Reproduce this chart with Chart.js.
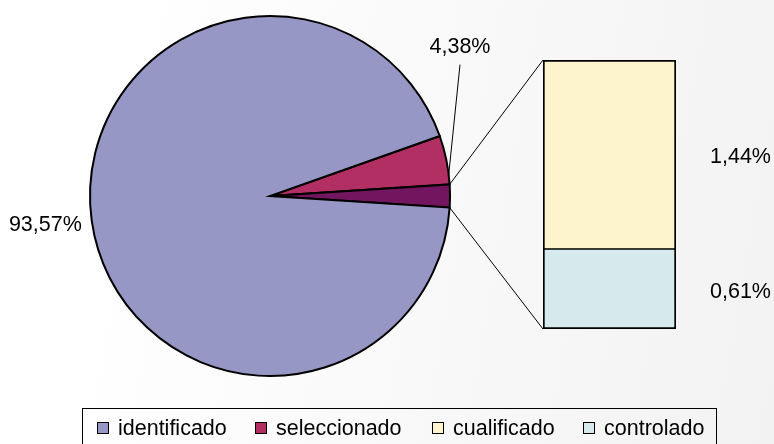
<!DOCTYPE html>
<html><head><meta charset="utf-8">
<script src="https://cdn.jsdelivr.net/npm/chart.js@4.4.0/dist/chart.umd.min.js"></script>
<style>
html,body{margin:0;padding:0;background:#fff;}
#wrap{position:relative;width:774px;height:444px;overflow:hidden;background:linear-gradient(100deg,#ffffff 15%,#f2f2f2 100%);font-family:'Liberation Sans',Arial,sans-serif;color:#000;}
canvas{position:absolute;left:0;top:0;}
#legend{position:absolute;left:82px;top:408px;width:635px;height:60px;border:1px solid #000;box-sizing:border-box;}
.sw{position:absolute;top:13px;width:12px;height:12px;border:1px solid #000;box-sizing:border-box;}
.lt{position:absolute;top:9px;font-size:21.5px;line-height:21.5px;white-space:nowrap;}
</style></head>
<body>
<div id="wrap">
  <canvas id="pie" width="774" height="444"></canvas>
  <canvas id="bar" width="774" height="444"></canvas>
  <div id="legend"></div>
</div>
<script>
// ---- data ----
const categories = ['identificado', 'seleccionado', 'cualificado', 'controlado'];
const values = [93.57, 4.38, 1.44, 0.61];
const valueLabels = ['93,57%', '4,38%', '1,44%', '0,61%'];

// ---- styles ----
const fillColors = ['#9797c6', '#b22f63', '#fdf3cc', '#d6e9ec'];
const otherColor = '#72165f';
const FONT = "21.5px 'Liberation Sans', Arial, sans-serif";

const total = values.reduce((a, b) => a + b, 0);
const otherValue = values[2] + values[3];
// Excel bar-of-pie: "other" slice centred on the horizontal right side
const startDeg = -(values[1] + otherValue / 2) / total * 360;

const pieLabels = {
  id: 'pieLabels',
  afterDatasetsDraw(chart) {
    const arcs = chart.getDatasetMeta(0).data;
    const ctx = chart.ctx;
    ctx.save();
    ctx.font = FONT;
    ctx.fillStyle = '#000';
    // identificado (index 2 in pie order)
    const a = arcs[2];
    const mid = (a.startAngle + a.endAngle) / 2;
    const r = a.outerRadius + 10;
    ctx.textAlign = Math.cos(mid) < 0 ? 'right' : 'left';
    ctx.textBaseline = 'middle';
    ctx.fillText(valueLabels[0], a.x + Math.cos(mid) * r, a.y + Math.sin(mid) * r + 3);
    // seleccionado with leader line
    const s = arcs[0];
    const ang = s.startAngle + 0.8 * (s.endAngle - s.startAngle);
    const px = s.x + Math.cos(ang) * s.outerRadius;
    const py = s.y + Math.sin(ang) * s.outerRadius;
    const lx = s.x + s.outerRadius + 10;
    const ly = s.y - s.outerRadius * 0.83;
    ctx.strokeStyle = '#000';
    ctx.lineWidth = 1;
    ctx.beginPath();
    ctx.moveTo(px, py);
    ctx.lineTo(lx, ly + 18);
    ctx.stroke();
    ctx.textAlign = 'center';
    ctx.fillText(valueLabels[1], lx, ly);
    ctx.restore();
  }
};

const pieChart = new Chart(document.getElementById('pie'), {
  type: 'pie',
  data: {
    labels: [categories[1], 'otros', categories[0]],
    datasets: [{
      data: [values[1], otherValue, values[0]],
      backgroundColor: [fillColors[1], otherColor, fillColors[0]],
      borderColor: '#000',
      borderWidth: 2,
      borderJoinStyle: 'miter',
      hoverOffset: 0,
      offset: 0
    }]
  },
  options: {
    responsive: false,
    animation: false,
    rotation: 90 + startDeg,
    layout: { padding: { left: 89, right: 323, top: 15, bottom: 67 } },
    plugins: { legend: { display: false }, tooltip: { enabled: false } },
    events: []
  },
  plugins: [pieLabels]
});

const barExtras = {
  id: 'barExtras',
  afterDatasetsDraw(chart) {
    const ctx = chart.ctx;
    const other = pieChart.getDatasetMeta(0).data[1];
    const bottomBar = chart.getDatasetMeta(0).data[0];
    const topBar = chart.getDatasetMeta(1).data[0];
    const left = bottomBar.x - bottomBar.width / 2;
    ctx.save();
    ctx.strokeStyle = '#000';
    ctx.lineWidth = 1;
    ctx.beginPath();
    ctx.moveTo(other.x + Math.cos(other.startAngle) * other.outerRadius, other.y + Math.sin(other.startAngle) * other.outerRadius);
    ctx.lineTo(left, topBar.y);
    ctx.moveTo(other.x + Math.cos(other.endAngle) * other.outerRadius, other.y + Math.sin(other.endAngle) * other.outerRadius);
    ctx.lineTo(left, bottomBar.base);
    ctx.stroke();
    ctx.font = FONT;
    ctx.fillStyle = '#000';
    ctx.textAlign = 'left';
    ctx.textBaseline = 'middle';
    const tx = left + bottomBar.width + 34;
    ctx.fillText(valueLabels[2], tx, (topBar.y + topBar.base) / 2 + 3);
    ctx.fillText(valueLabels[3], tx, (bottomBar.y + bottomBar.base) / 2 + 3);
    ctx.restore();
  }
};

new Chart(document.getElementById('bar'), {
  type: 'bar',
  data: {
    labels: [''],
    datasets: [
      { label: categories[3], data: [values[3]], backgroundColor: fillColors[3],
        borderWidth: { left: 2, right: 2, bottom: 2, top: 1 } },
      { label: categories[2], data: [values[2]], backgroundColor: fillColors[2],
        borderWidth: { left: 2, right: 2, bottom: 1, top: 2 } }
    ]
  },
  options: {
    responsive: false,
    animation: false,
    datasets: { bar: { borderColor: '#000', borderSkipped: false, barPercentage: 1, categoryPercentage: 1 } },
    layout: { padding: { left: 543, right: 98, top: 60, bottom: 115 } },
    scales: {
      x: { display: false, stacked: true },
      y: { display: false, stacked: true, min: 0, max: otherValue }
    },
    plugins: { legend: { display: false }, tooltip: { enabled: false } },
    events: []
  },
  plugins: [barExtras]
});

// ---- legend ----
const legendX = [14, 172, 349, 500];
const legend = document.getElementById('legend');
categories.forEach((c, i) => {
  const sw = document.createElement('div');
  sw.className = 'sw';
  sw.style.left = legendX[i] + 'px';
  sw.style.background = fillColors[i];
  legend.appendChild(sw);
  const t = document.createElement('div');
  t.className = 'lt';
  t.style.left = (legendX[i] + 21) + 'px';
  t.textContent = c;
  legend.appendChild(t);
});
</script>
</body></html>
